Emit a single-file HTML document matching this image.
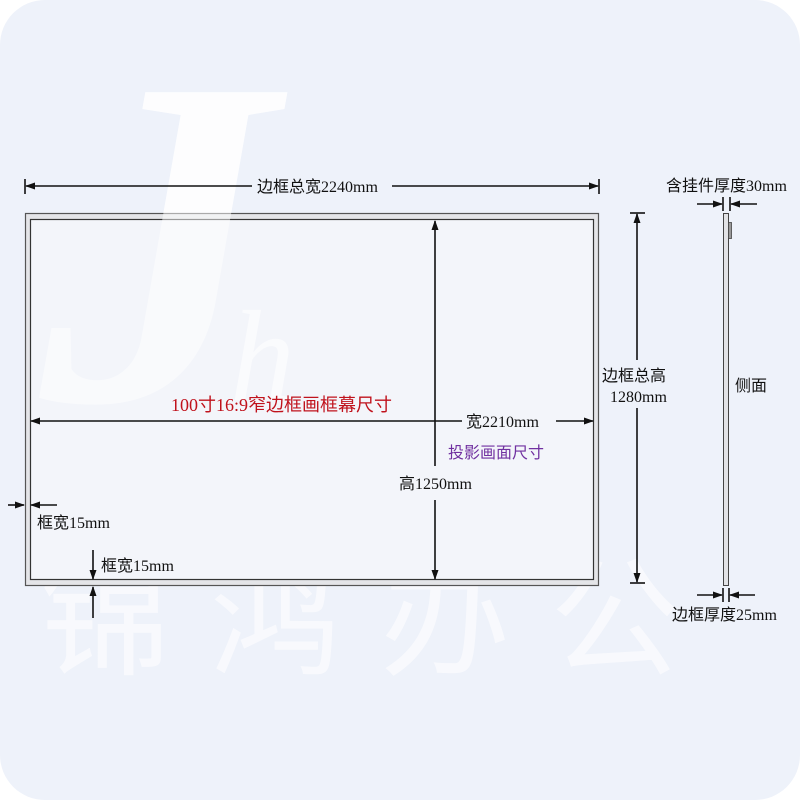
<!DOCTYPE html>
<html><head><meta charset="utf-8"><style>
html,body{margin:0;padding:0;background:#fff;}
svg{display:block}
text{font-family:"Liberation Serif","Noto Sans CJK SC",serif;}
</style></head><body>
<svg width="800" height="800" viewBox="0 0 800 800" xmlns="http://www.w3.org/2000/svg">
<defs>
<marker id="a" markerWidth="10" markerHeight="8" refX="9" refY="4" orient="auto" markerUnits="userSpaceOnUse">
<path d="M0,0.5 L10,4 L0,7.5 Z" fill="#111"/></marker>
</defs>
<rect x="0" y="0" width="800" height="800" rx="45" fill="#eef2fa"/>
<text x="40" y="400" font-size="470" fill="#ffffff" opacity="0.8" font-family="Liberation Serif,serif" font-weight="bold" font-style="italic">J</text>
<text x="40" y="665" font-size="130" fill="#ffffff" opacity="0.6" font-family="Noto Serif CJK SC,serif" letter-spacing="40">锦鸿办公</text>

<rect x="25.5" y="213.5" width="573" height="372" fill="#e4e5e8" stroke="#555" stroke-width="1.2"/>
<rect x="30.5" y="219.5" width="563" height="360" fill="#f3f5fa" stroke="#333" stroke-width="1.2"/>
<text x="40" y="400" font-size="470" fill="#ffffff" opacity="0.5" font-family="Liberation Serif,serif" font-weight="bold" font-style="italic">J</text>
<text x="230" y="400" font-size="130" fill="#ffffff" opacity="0.6" font-family="Liberation Serif,serif" font-style="italic">h</text>

<g stroke="#111" stroke-width="1.6" fill="none">
<line x1="25" y1="179" x2="25" y2="194"/>
<line x1="599" y1="179" x2="599" y2="194"/>
<line x1="252" y1="186" x2="26" y2="186" marker-end="url(#a)"/>
<line x1="392" y1="186" x2="598" y2="186" marker-end="url(#a)"/>
<line x1="630" y1="213" x2="645" y2="213"/>
<line x1="630" y1="583" x2="645" y2="583"/>
<line x1="637" y1="360" x2="637" y2="214" marker-end="url(#a)"/>
<line x1="637" y1="408" x2="637" y2="582" marker-end="url(#a)"/>
<line x1="435" y1="466" x2="435" y2="221" marker-end="url(#a)"/>
<line x1="435" y1="500" x2="435" y2="579" marker-end="url(#a)"/>
<line x1="462" y1="421" x2="31" y2="421" marker-end="url(#a)"/>
<line x1="556" y1="421" x2="593" y2="421" marker-end="url(#a)"/>
<line x1="8" y1="505" x2="24" y2="505" marker-end="url(#a)"/>
<line x1="57" y1="505" x2="31" y2="505" marker-end="url(#a)"/>
<line x1="93" y1="550" x2="93" y2="579" marker-end="url(#a)"/>
<line x1="93" y1="618" x2="93" y2="587" marker-end="url(#a)"/>
<line x1="697" y1="204" x2="722" y2="204" marker-end="url(#a)"/>
<line x1="757" y1="204" x2="731" y2="204" marker-end="url(#a)"/>
<line x1="723" y1="197" x2="723" y2="211"/>
<line x1="730" y1="197" x2="730" y2="211"/>
<line x1="697" y1="595" x2="722" y2="595" marker-end="url(#a)"/>
<line x1="755" y1="595" x2="730" y2="595" marker-end="url(#a)"/>
<line x1="723" y1="588" x2="723" y2="602"/>
<line x1="729" y1="588" x2="729" y2="602"/>
</g>

<rect x="723.5" y="213.5" width="5" height="372" fill="#e2e3e6" stroke="#444" stroke-width="1"/>
<rect x="728.5" y="222.5" width="3" height="16" fill="#999" stroke="#444" stroke-width="0.8"/>

<g font-size="16" fill="#111">
<text x="257" y="192">边框总宽2240mm</text>
<text x="602" y="381">边框总高</text>
<text x="610" y="402">1280mm</text>
<text x="466" y="427">宽2210mm</text>
<text x="399" y="489">高1250mm</text>
<text x="37" y="528">框宽15mm</text>
<text x="101" y="571">框宽15mm</text>
<text x="666" y="191">含挂件厚度30mm</text>
<text x="672" y="620">边框厚度25mm</text>
<text x="735" y="391">侧面</text>
</g>
<text x="171" y="411" font-size="18" fill="#c0121c">100寸16:9窄边框画框幕尺寸</text>
<text x="448" y="458" font-size="16" fill="#7030a0">投影画面尺寸</text>
</svg>
</body></html>
